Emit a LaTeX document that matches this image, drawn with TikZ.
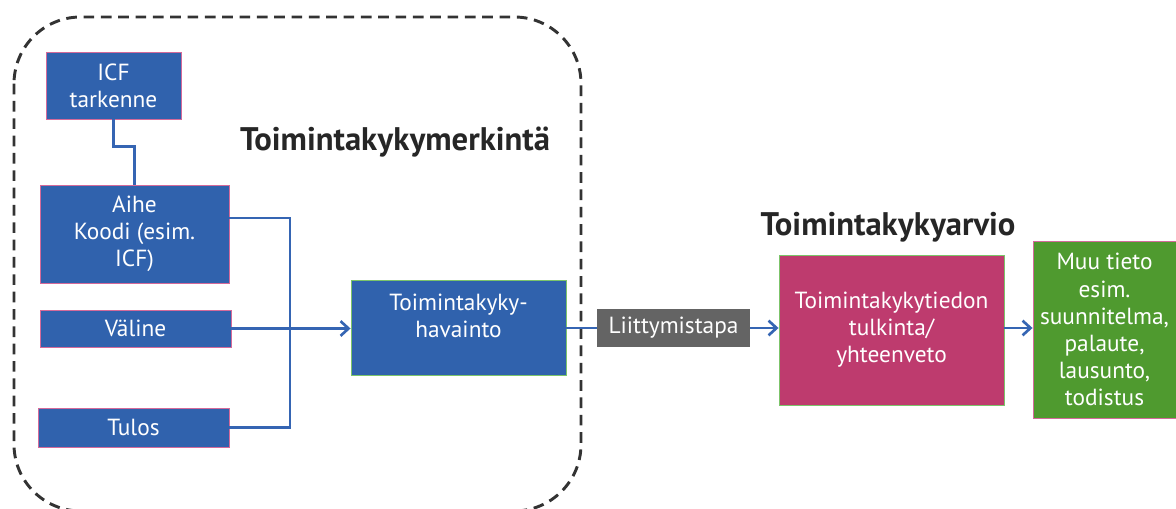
\documentclass[tikz,border=0pt]{standalone}
\usepackage{fontspec}
\setmainfont{PT Sans}
\usetikzlibrary{arrows.meta,fit,calc}
\definecolor{boxblue}{HTML}{3062AD}
\definecolor{boxmagenta}{HTML}{BE3B6E}
\definecolor{boxgreen}{HTML}{4F9A2F}
\definecolor{boxgray}{HTML}{646464}
\definecolor{edgepink}{HTML}{D46A9A}
\definecolor{edgegreen}{HTML}{7CC46A}
\definecolor{linkblue}{HTML}{3565B3}
\definecolor{titlegray}{HTML}{262626}
\tikzset{
  box/.style={rectangle, inner sep=0pt, line width=0.7pt},
  bluebox/.style={box, fill=boxblue, draw=edgepink},
  obsbox/.style={box, fill=boxblue, draw=edgegreen},
  evalbox/.style={box, fill=boxmagenta, draw=edgegreen},
  otherbox/.style={box, fill=boxgreen, draw=edgepink},
  waybox/.style={box, fill=boxgray},
  boxtext/.style={text=white, align=center, inner sep=0pt, font=\fontsize{17.5}{20.3}\selectfont},
  link/.style={draw=linkblue, line width=2pt},
  arrowlink/.style={link, -{Straight Barb[length=6pt,width=11pt,line width=2pt]}},
  title/.style={text=titlegray, font=\fontsize{24.5}{28}\selectfont\bfseries},
  frame/.style={draw=black!80, line width=2.2pt, dash pattern=on 8pt off 5pt, rounded corners=50pt}
}
\begin{document}
\begin{tikzpicture}[x=0.75pt,y=-0.75pt]
\useasboundingbox (0,0) rectangle (1176,509);

% dashed frame around the recording part
\draw[frame] (14,17) rectangle (581,511);

% recording components
\node[bluebox, fit={(46,52) (181,119)}, label={[boxtext]center:ICF\\tarkenne}] (icf) {};
\node[bluebox, fit={(40,185) (229,283)}, label={[boxtext]center:Aihe\\Koodi (esim.\\ICF)}] (aihe) {};
\node[bluebox, fit={(40,310) (231,347)}, label={[boxtext]center:Väline}] (valine) {};
\node[bluebox, fit={(38,408) (229,447)}, label={[boxtext]center:Tulos}] (tulos) {};
\node[obsbox, fit={(351,280) (566,375)},
  label={[boxtext, yshift=9pt]center:Toimintakyky-\\havainto}] (havainto) {};

\node[title] (merkinta) at (395,142) {Toimintakykymerkintä};

% assessment part
\node[waybox, fit={(597,309) (750,347)}, label={[boxtext]center:Liittymistapa}] (liittyminen) {};
\node[evalbox, fit={(779,255) (1004,405)},
  label={[boxtext]center:Toimintakykytiedon\\tulkinta/\\yhteenveto}] (tulkinta) {};
\node[otherbox, fit={(1033,241) (1180,418)},
  label={[boxtext, xshift=-1.5pt]center:Muu tieto\\esim.\\suunnitelma,\\palaute,\\lausunto,\\todistus}] (muu) {};

\node[title] (arvio) at (888,227) {Toimintakykyarvio};

% connectors
\coordinate (join) at (290,328);
\draw[link] (icf.south) -- ++(0,27) -| (aihe.north);
\draw[link] ($(aihe.east)+(0,-16)$) -| (join);
\draw[link] (tulos.east) -| (join);
\draw[arrowlink] (valine.east) -- (valine.east -| havainto.west);
\draw[link] (havainto.east |- liittyminen.west) -- (liittyminen.west);
\draw[arrowlink] (liittyminen.east) -- (liittyminen.east -| tulkinta.west);
\draw[arrowlink] (tulkinta.east |- liittyminen.east) -- (liittyminen.east -| muu.west);
\end{tikzpicture}
\end{document}
